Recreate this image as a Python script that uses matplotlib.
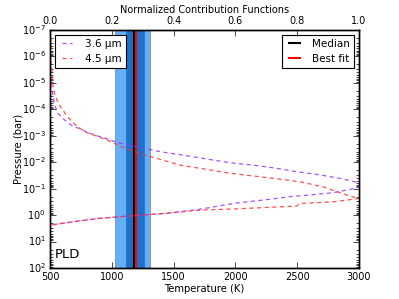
import numpy as np
import matplotlib
matplotlib.use("Agg")
import matplotlib.pyplot as plt

plt.style.use('classic')
plt.rcParams['font.family'] = ['DejaVu Sans']
plt.rcParams['figure.facecolor'] = 'white'
plt.rcParams['savefig.facecolor'] = 'white'
plt.rcParams['font.size'] = 7

# Contribution functions (log10 pressure in bar, normalized value)
cf36_logp = [-7, -5.2, -4.8, -4.16, -3.85, -3.6, -3.4, -3.24, -3.12, -2.99, -2.87, -2.74,
             -2.62, -2.49, -2.37, -2.27, -2.12, -1.98, -1.89, -1.77, -1.64, -1.52, -1.39,
             -1.26, -1.07, -0.97, -0.85, -0.76, -0.7, -0.6, -0.44, -0.22, -0.07, 0.02,
             0.12, 0.21, 0.37, 0.5]
cf36_val = [0.0, 0.0, 0.005, 0.015, 0.026, 0.047, 0.069, 0.101, 0.123, 0.155, 0.188, 0.220,
            0.263, 0.317, 0.371, 0.431, 0.507, 0.583, 0.658, 0.734, 0.798, 0.874, 0.939,
            0.987, 1.0, 0.971, 0.917, 0.841, 0.777, 0.712, 0.593, 0.485, 0.378, 0.27,
            0.162, 0.1, 0.005, 0.0]

cf45_logp = [-7, -6.5, -6.0, -5.5, -5, -4.6, -4.23, -3.7, -3.44, -3.15, -2.97, -2.82, -2.65,
             -2.49, -2.31, -2.17, -2.11, -1.89, -1.73, -1.58, -1.48, -1.39, -1.26, -1.07,
             -0.89, -0.72, -0.63, -0.5, -0.44, -0.34, -0.29, -0.23, -0.19, -0.07, 0.02,
             0.12, 0.21, 0.37, 0.5]
cf45_val = [0.0, 0.005, 0.0, 0.006, 0.008, 0.015, 0.026, 0.058, 0.080, 0.112, 0.155, 0.188,
            0.220, 0.252, 0.295, 0.339, 0.356, 0.421, 0.507, 0.583, 0.658, 0.723, 0.809,
            0.884, 0.928, 0.971, 1.0, 0.916, 0.809, 0.798, 0.701, 0.593, 0.485, 0.378,
            0.27, 0.162, 0.1, 0.005, 0.0]

# Isothermal temperature-pressure profile
t_2sig = [1026, 1309]
t_1sig = [1115, 1257]
t_median = 1182
t_best = 1192
p_range = [1e-7, 1e2]

fig = plt.figure(figsize=(3.99, 2.99), dpi=100)
ax = fig.add_axes([50/399, 1-268/299, 309/399, 238/299])

p = np.array(p_range)
ax.fill_betweenx(p, t_2sig[0], t_2sig[1], facecolor='#64aff7', edgecolor='#999999', lw=0.8)
ax.fill_betweenx(p, t_1sig[0], t_1sig[1], facecolor='#1f70c8', edgecolor='#1f70c8', lw=0.5)
ax.plot([t_median, t_median], p, color='black', lw=1.5, label='Median')
ax.plot([t_best, t_best], p, color='red', lw=1.5, label='Best fit')

ax.set_yscale('log')
ax.set_ylim(1e2, 1e-7)
ax.set_xlim(500, 3000)
ax.set_xticks([500, 1000, 1500, 2000, 2500, 3000])
ax.set_xlabel('Temperature (K)', fontsize=7.2, labelpad=1)
ax.set_ylabel('Pressure (bar)', fontsize=7.2, labelpad=-1)
ax.tick_params(labelsize=7, pad=3)
ax.text(0.015, 0.03, 'PLD', transform=ax.transAxes, fontsize=9.5, ha='left', va='bottom')

leg2 = ax.legend(loc='upper right', fontsize=7.5, handlelength=1.6, handletextpad=0.9,
                 borderpad=0.4, labelspacing=0.45, borderaxespad=0.45)
leg2.get_frame().set_linewidth(0.8)

ax2 = ax.twiny()
ax2.set_xlim(0, 1)
ax2.set_ylim(1e2, 1e-7)
ax2.plot(cf36_val, 10**np.array(cf36_logp), '--', dashes=(3, 2.5), color='#9933ff',
         alpha=0.85, lw=0.9, label='3.6 µm')
ax2.plot(cf45_val, 10**np.array(cf45_logp), '--', dashes=(3, 2.5), color='#ff3333',
         alpha=0.85, lw=0.9, label='4.5 µm')
ax2.set_xticks([0.0, 0.2, 0.4, 0.6, 0.8, 1.0])
ax2.set_xlabel('Normalized Contribution Functions', fontsize=7.0, labelpad=2)
ax2.tick_params(labelsize=7, pad=3)
leg1 = ax2.legend(loc='upper left', fontsize=7.5, handlelength=1.6, handletextpad=0.9,
                  borderpad=0.4, labelspacing=0.45, borderaxespad=0.45)
leg1.get_frame().set_linewidth(0.8)

fig.savefig('out.png', dpi=100)
